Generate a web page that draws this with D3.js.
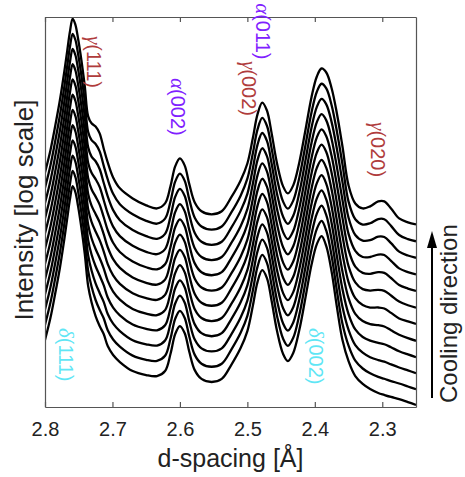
<!DOCTYPE html>
<html>
<head>
<meta charset="utf-8">
<script src="https://cdn.jsdelivr.net/npm/d3@7"></script>
<style>
  html, body { margin: 0; padding: 0; background: #fff; }
  svg { display: block; font-family: "Liberation Sans", Arial, sans-serif; }
</style>
</head>
<body>
<svg id="chart" width="465" height="477"></svg>
<script>
// d-spacing grid (Å) shared by every scan
const dSpacing = [
  2.800, 2.792, 2.785, 2.778, 2.772, 2.767, 2.763, 2.759, 2.755, 2.751, 2.746, 2.741,
  2.736, 2.731, 2.725, 2.719, 2.713, 2.707, 2.699, 2.689, 2.670, 2.650,
  2.634, 2.622, 2.614, 2.607, 2.600, 2.593, 2.586, 2.578, 2.568, 2.553, 2.538, 2.524,
  2.510, 2.500, 2.492, 2.485, 2.478, 2.471, 2.464, 2.456, 2.447, 2.440, 2.432, 2.423,
  2.414, 2.405, 2.397, 2.390,
  2.383, 2.375, 2.367, 2.359, 2.350, 2.340, 2.329, 2.318, 2.306, 2.297, 2.287, 2.275,
  2.262, 2.250
];

// Diffracted intensity of each scan (arb. units), hottest first
const scan01 = [46.8, 77.6, 135, 245, 447, 776, 1202, 1622, 1413, 1023, 617, 339,
  162, 112, 81.3, 64.6, 53.7, 40.7, 33.1, 28.2, 22.9, 20.9,
  20.4, 22.9, 33.9, 53.7, 64.6, 55.0, 35.5, 23.4, 19.1, 17.8, 19.1, 26.3, 38.9, 57.5, 102, 178, 234, 195, 115, 57.5, 33.9, 28.8, 34.7, 58.9, 123, 263, 427, 513,
  407, 224, 97.7, 46.8, 28.8, 20.4, 17.0, 15.1, 13.8, 13.2, 12.6, 12.0, 11.2, 10.5];
const scan02 = [46.8, 77.6, 135, 245, 447, 776, 1202, 1622, 1413, 1023, 617, 339,
  162, 113, 82.9, 66.1, 54.5, 41.3, 33.4, 28.3, 23.0, 20.9,
  20.4, 22.9, 33.9, 53.7, 64.6, 55.0, 35.5, 23.4, 19.1, 17.8, 19.1, 26.3, 38.9, 57.5, 102, 178, 234, 195, 115, 57.5, 33.9, 28.8, 34.7, 58.9, 123, 263, 427, 513,
  409, 227, 100, 48.0, 29.0, 20.5, 17.1, 15.3, 14.1, 13.5, 12.8, 12.1, 11.3, 10.6];
const scan03 = [46.8, 77.6, 135, 245, 447, 776, 1202, 1622, 1413, 1023, 617, 339,
  163, 115, 85.6, 68.6, 55.9, 42.2, 33.8, 28.5, 23.1, 21.0,
  20.4, 22.9, 33.9, 53.7, 64.6, 55.0, 35.5, 23.4, 19.1, 17.8, 19.1, 26.3, 38.9, 57.5, 102, 178, 234, 195, 115, 57.5, 33.9, 28.8, 34.7, 58.9, 123, 263, 427, 513,
  412, 232, 104, 49.9, 29.3, 20.6, 17.3, 15.6, 14.6, 14.1, 13.2, 12.3, 11.5, 10.8];
const scan04 = [46.8, 77.6, 135, 245, 447, 776, 1202, 1622, 1413, 1023, 617, 339,
  163, 117, 89.3, 72.1, 57.8, 43.4, 34.4, 28.8, 23.3, 21.1,
  20.4, 22.9, 33.9, 53.7, 64.6, 55.0, 35.5, 23.4, 19.1, 17.8, 19.1, 26.3, 38.9, 57.5, 102, 178, 234, 195, 115, 57.5, 33.9, 28.8, 34.7, 58.9, 123, 263, 427, 513,
  416, 239, 110, 52.6, 29.7, 20.8, 17.5, 16.1, 15.3, 14.8, 13.8, 12.6, 11.7, 11.0];
const scan05 = [46.8, 77.6, 135, 245, 447, 776, 1202, 1622, 1413, 1023, 617, 339,
  164, 120, 93.6, 76.1, 60.1, 44.9, 35.1, 29.2, 23.5, 21.1,
  20.4, 22.9, 33.9, 53.7, 64.6, 55.0, 35.5, 23.4, 19.1, 17.8, 19.1, 26.3, 38.9, 57.5, 102, 178, 234, 195, 115, 57.5, 33.9, 28.8, 34.7, 58.9, 123, 263, 427, 513,
  421, 247, 116, 55.6, 30.2, 21.0, 17.8, 16.6, 16.2, 15.7, 14.4, 13.0, 12.0, 11.3];
const scan06 = [46.8, 77.6, 135, 245, 447, 776, 1202, 1622, 1413, 1023, 617, 339,
  165, 123, 98.5, 80.7, 62.5, 46.5, 35.9, 29.5, 23.8, 21.2,
  20.4, 22.9, 33.9, 53.7, 64.6, 55.0, 35.5, 23.4, 19.1, 17.8, 19.1, 26.3, 38.9, 57.5, 102, 178, 234, 195, 115, 57.5, 33.9, 28.8, 34.7, 58.9, 123, 263, 427, 513,
  427, 256, 123, 59.1, 30.7, 21.2, 18.1, 17.1, 17.1, 16.7, 15.1, 13.3, 12.4, 11.7];
const scan07 = [46.8, 77.6, 135, 245, 447, 776, 1202, 1622, 1413, 1023, 617, 339,
  165, 126, 104, 85.7, 65.3, 48.3, 36.7, 30.0, 24.1, 21.3,
  20.4, 22.9, 33.9, 53.7, 64.6, 55.0, 35.5, 23.4, 19.1, 17.8, 19.1, 26.3, 38.9, 57.5, 102, 178, 234, 195, 115, 57.5, 33.9, 28.8, 34.7, 58.9, 123, 263, 427, 513,
  433, 266, 131, 62.9, 31.3, 21.5, 18.4, 17.8, 18.1, 17.7, 15.9, 13.8, 12.7, 12.0];
const scan08 = [46.8, 77.6, 135, 245, 447, 776, 1202, 1622, 1413, 1023, 617, 339,
  166, 129, 109, 90.7, 68.1, 50.2, 37.6, 30.4, 24.4, 21.4,
  20.4, 22.9, 33.9, 53.7, 64.6, 55.0, 35.5, 23.4, 19.1, 17.8, 19.1, 26.3, 38.9, 57.5, 102, 178, 234, 195, 115, 57.5, 33.9, 28.8, 34.7, 58.9, 123, 263, 427, 513,
  439, 276, 139, 66.7, 31.9, 21.7, 18.8, 18.4, 19.1, 18.8, 16.7, 14.2, 13.1, 12.4];
const scan09 = [46.8, 77.6, 135, 245, 447, 776, 1202, 1622, 1413, 1023, 617, 339,
  167, 133, 115, 96.2, 71.1, 52.2, 38.5, 30.9, 24.7, 21.5,
  20.4, 22.9, 33.9, 53.7, 64.6, 55.0, 35.5, 23.4, 19.1, 17.8, 19.1, 26.3, 38.9, 57.5, 102, 178, 234, 195, 115, 57.5, 33.9, 28.8, 34.7, 58.9, 123, 263, 427, 513,
  445, 287, 148, 70.9, 32.5, 22.0, 19.1, 19.1, 20.2, 20.0, 17.5, 14.7, 13.5, 12.8];
const scan10 = [46.8, 77.6, 135, 245, 447, 776, 1202, 1622, 1413, 1023, 617, 339,
  168, 136, 122, 102, 74.4, 54.4, 39.6, 31.4, 25.0, 21.7,
  20.4, 22.9, 33.9, 53.7, 64.6, 55.0, 35.5, 23.4, 19.1, 17.8, 19.1, 26.3, 38.9, 57.5, 102, 178, 234, 195, 115, 57.5, 33.9, 28.8, 34.7, 58.9, 123, 263, 427, 513,
  453, 299, 158, 75.5, 33.2, 22.3, 19.6, 19.8, 21.5, 21.3, 18.5, 15.2, 13.9, 13.2];
const scan11 = [46.8, 77.6, 135, 245, 447, 776, 1202, 1622, 1413, 1023, 617, 339,
  169, 140, 128, 108, 77.7, 56.5, 40.6, 31.9, 25.3, 21.8,
  20.4, 22.9, 33.9, 53.7, 64.6, 55.0, 35.5, 23.4, 19.1, 17.8, 19.1, 26.3, 38.9, 57.5, 102, 178, 234, 195, 115, 57.5, 33.9, 28.8, 34.7, 58.9, 123, 263, 427, 513,
  460, 311, 167, 80.1, 33.9, 22.6, 20.0, 20.6, 22.7, 22.6, 19.4, 15.7, 14.3, 13.6];
const scan12 = [46.8, 77.6, 135, 245, 447, 776, 1202, 1622, 1413, 1023, 617, 339,
  170, 145, 135, 115, 81.3, 58.9, 41.7, 32.4, 25.7, 21.9,
  20.4, 22.9, 33.9, 53.7, 64.6, 55.0, 35.5, 23.4, 19.1, 17.8, 19.1, 26.3, 38.9, 57.5, 102, 178, 234, 195, 115, 57.5, 33.9, 28.8, 34.7, 58.9, 123, 263, 427, 513,
  468, 324, 178, 85.1, 34.7, 22.9, 20.4, 21.4, 24.0, 24.0, 20.4, 16.2, 14.8, 14.1];

const scans = [scan01, scan02, scan03, scan04, scan05, scan06,
               scan07, scan08, scan09, scan10, scan11, scan12];

// waterfall offset factor applied to each scan (log axis)
const stackOffsets = [1, 1.42, 2.02, 2.87, 4.07, 5.79, 8.22, 11.7, 16.6, 23.6, 33.5, 47.6];

const xTicks = [2.8, 2.7, 2.6, 2.5, 2.4, 2.3];

// reflection labels: phase, hkl, anchor (d-spacing, intensity)
const labelPhase = ["γ", "α", "α", "γ", "γ", "δ", "δ"];
const labelHkl   = ["(111)", "(002)", "(011)", "(002)", "(020)", "(111)", "(002)"];
const labelD     = [2.738, 2.613, 2.487, 2.508, 2.316, 2.779, 2.409];
const labelI     = [51600, 19600, 110000, 29000, 7100, 61.8, 61.8];

const phaseColor = { "γ": "#b03c3c", "α": "#8020ff", "δ": "#5fe6f5" };

const svg = d3.select("#chart");
const W = 465, H = 477;
const plot = { left: 45, right: 416, top: 17, bottom: 407 };

svg.append("rect").attr("width", W).attr("height", H).attr("fill", "#fff");

const x = d3.scaleLinear().domain([2.8, 2.25]).range([plot.left, plot.right]);
const y = d3.scaleLog().domain([10, 8e4]).range([plot.bottom, plot.top]);

svg.append("clipPath").attr("id", "plotClip")
  .append("rect")
  .attr("x", plot.left).attr("y", plot.top - 2)
  .attr("width", plot.right - plot.left).attr("height", plot.bottom - plot.top + 2);

const line = d3.line()
  .x(p => x(p.d))
  .y(p => y(p.v))
  .curve(d3.curveCatmullRom.alpha(0.5));

svg.append("g").attr("clip-path", "url(#plotClip)")
  .selectAll("path")
  .data(scans)
  .join("path")
  .attr("fill", "none")
  .attr("stroke", "#000")
  .attr("stroke-width", 2.3)
  .attr("stroke-linejoin", "round")
  .attr("d", (s, k) => line(s.map((v, j) => ({ d: dSpacing[j], v: v * stackOffsets[k] }))));

// axes: bottom with labels, top / left / right as plain spines
const axisColor = "#555";
const gBottom = svg.append("g")
  .attr("transform", `translate(0,${plot.bottom})`)
  .call(d3.axisBottom(x).tickValues(xTicks).tickFormat(d3.format(".1f"))
    .tickSizeInner(-5).tickSizeOuter(0).tickPadding(15));
const gTop = svg.append("g")
  .attr("transform", `translate(0,${plot.top})`)
  .call(d3.axisTop(x).tickValues(xTicks).tickFormat("")
    .tickSizeInner(-5).tickSizeOuter(0));
const gLeft = svg.append("g")
  .attr("transform", `translate(${plot.left},0)`)
  .call(d3.axisLeft(y).tickValues([]).tickSizeOuter(0));
const gRight = svg.append("g")
  .attr("transform", `translate(${plot.right},0)`)
  .call(d3.axisRight(y).tickValues([]).tickSizeOuter(0));

[gBottom, gTop, gLeft, gRight].forEach(g => {
  g.selectAll(".domain").attr("stroke", axisColor).attr("stroke-width", 1.2);
  g.selectAll(".tick line").attr("stroke", axisColor).attr("stroke-width", 1.2);
});
gBottom.selectAll(".tick text")
  .attr("font-family", "Liberation Sans, Arial, sans-serif")
  .attr("font-size", 20)
  .attr("fill", "#222");

// axis titles
svg.append("text")
  .attr("x", (plot.left + plot.right) / 2)
  .attr("y", 467)
  .attr("text-anchor", "middle")
  .attr("font-size", 25)
  .attr("fill", "#222")
  .text("d-spacing [Å]");

svg.append("text")
  .attr("transform", `translate(33,${(plot.top + plot.bottom) / 2 - 2}) rotate(-90)`)
  .attr("text-anchor", "middle")
  .attr("font-size", 26)
  .attr("fill", "#222")
  .text("Intensity [log scale]");

// reflection labels, rotated to read downward
const labels = svg.append("g");
labelPhase.forEach((ph, i) => {
  const t = labels.append("text")
    .attr("transform", `translate(${x(labelD[i])},${y(labelI[i])}) rotate(90)`)
    .attr("font-size", 20)
    .attr("fill", phaseColor[ph]);
  t.append("tspan")
    .attr("font-family", "Liberation Serif, DejaVu Serif, serif")
    .attr("font-style", "italic")
    .attr("font-size", 21)
    .text(ph);
  t.append("tspan").text(labelHkl[i]);
});

// cooling direction arrow
const arrowX = 432;
svg.append("line")
  .attr("x1", arrowX).attr("x2", arrowX)
  .attr("y1", 398).attr("y2", 244)
  .attr("stroke", "#000").attr("stroke-width", 2);
svg.append("path")
  .attr("d", `M${arrowX},231 L${arrowX - 5},248 L${arrowX + 5},248 Z`)
  .attr("fill", "#000");
svg.append("text")
  .attr("transform", "translate(457,403) rotate(-90)")
  .attr("text-anchor", "start")
  .attr("font-size", 24)
  .attr("fill", "#222")
  .text("Cooling direction");
</script>
</body>
</html>
